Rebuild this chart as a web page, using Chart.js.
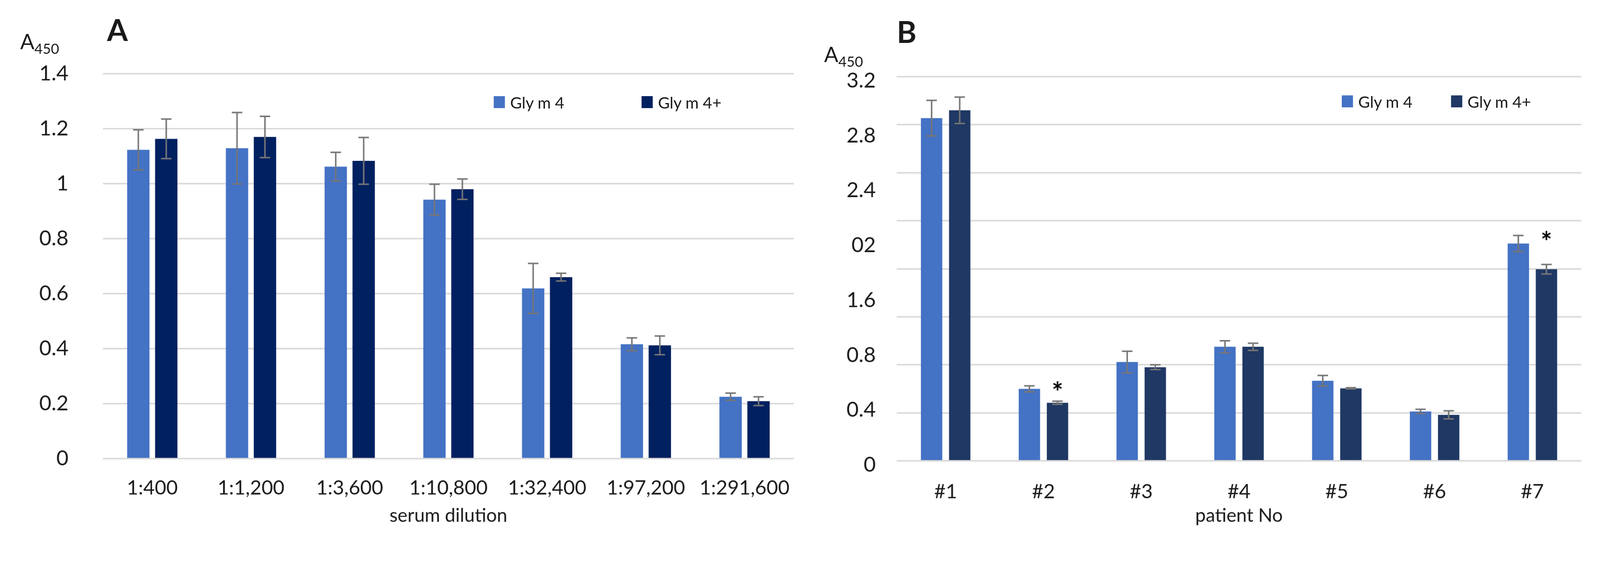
<!DOCTYPE html>
<html>
<head>
<meta charset="utf-8">
<script src="https://cdn.jsdelivr.net/npm/chart.js@4.4.1/dist/chart.umd.min.js"></script>
<style>
  html, body { margin: 0; padding: 0; background: #fff; overflow: hidden; }
  body { font-family: Lato, 'Open Sans', sans-serif; color: #1a1a1a; }
  #page { width: 4275px; height: 1437px; position: relative; transform-origin: 0 0; }
  .panel { position: absolute; top: 0; height: 1437px; }
  #panelA { left: 0; width: 2150px; }
  #panelB { left: 2150px; width: 2125px; }
  .wrap { position: absolute; left: 0; top: 0; width: 100%; height: 100%; }
  .letter { position: absolute; font-weight: bold; font-size: 80px; line-height: 1; }
  .ylab { position: absolute; font-size: 56px; line-height: 1; white-space: nowrap; }
  .ylab sub { font-size: 38px; vertical-align: baseline; position: relative; top: 12px; }
  .legend-item { position: absolute; display: flex; align-items: center; height: 32px; font-size: 43px; line-height: 1; white-space: nowrap; }
  .legend-item .box { width: 30px; height: 32px; margin-right: 14px; display: inline-block; }
</style>
</head>
<body>
<div id="page">
  <div id="panelA" class="panel">
    <div class="wrap"><canvas id="chartA"></canvas></div>
    <div class="letter" style="left:286px; top:39px;">A</div>
    <div class="ylab" style="left:54px; top:83px;">A<sub>450</sub></div>
  </div>
  <div id="panelB" class="panel">
    <div class="wrap"><canvas id="chartB"></canvas></div>
    <div class="letter" style="left:246px; top:44px;">B</div>
    <div class="ylab" style="left:52px; top:117px;">A<sub>450</sub></div>
  </div>
</div>

<script>
// panel A: serum dilution
const dilutions = ['1:400', '1:1,200', '1:3,600', '1:10,800', '1:32,400', '1:97,200', '1:291,600'];
const glyA = [1.123, 1.129, 1.062, 0.942, 0.619, 0.416, 0.225];
const glyAErr = [0.073, 0.13, 0.052, 0.056, 0.091, 0.023, 0.013];
const glyPlusA = [1.163, 1.17, 1.083, 0.98, 0.66, 0.412, 0.209];
const glyPlusAErr = [0.072, 0.075, 0.085, 0.037, 0.014, 0.034, 0.016];
const yTicksA = ['0', '0.2', '0.4', '0.6', '0.8', '1', '1.2', '1.4'];

// panel B: patients
const patients = ['#1', '#2', '#3', '#4', '#5', '#6', '#7'];
const glyB = [2.855, 0.6, 0.823, 0.95, 0.667, 0.411, 1.81];
const glyBErr = [0.148, 0.025, 0.09, 0.05, 0.044, 0.018, 0.067];
const glyPlusB = [2.92, 0.484, 0.78, 0.95, 0.604, 0.383, 1.596];
const glyPlusBErr = [0.11, 0.013, 0.02, 0.03, 0.005, 0.034, 0.04];
const starsB = ['', '*', '', '', '', '', '*'];
const yTicksB = ['0', '0.4', '0.8', '1.6', '02', '2.4', '2.8', '3.2'];

// fit the 4275x1437 page into whatever viewport we really get
const fit = Math.min(window.innerWidth / 4275, window.innerHeight / 1437);
if (fit && Math.abs(fit - 1) > 0.002) {
    document.getElementById('page').style.transform = 'scale(' + fit + ')';
}

Chart.defaults.font.family = 'Lato, "Open Sans", sans-serif';
Chart.defaults.color = '#1a1a1a';

const gridColor = '#d9d9d9';

// error bars drawn from each dataset's "errors" array
const errorBars = {
    id: 'errorBars',
    afterDatasetsDraw(chart) {
        const ctx = chart.ctx;
        const y = chart.scales.y;
        ctx.save();
        ctx.strokeStyle = '#767676';
        ctx.lineWidth = 4;
        chart.data.datasets.forEach((ds, i) => {
            chart.getDatasetMeta(i).data.forEach((bar, j) => {
                const top = y.getPixelForValue(ds.data[j] + ds.errors[j]);
                const bot = y.getPixelForValue(ds.data[j] - ds.errors[j]);
                ctx.beginPath();
                ctx.moveTo(bar.x, top); ctx.lineTo(bar.x, bot);
                ctx.moveTo(bar.x - 14, top); ctx.lineTo(bar.x + 14, top);
                ctx.moveTo(bar.x - 14, bot); ctx.lineTo(bar.x + 14, bot);
                ctx.stroke();
            });
        });
        ctx.restore();
    }
};

// significance asterisks over the Gly m 4+ bars
const stars = {
    id: 'stars',
    afterDatasetsDraw(chart) {
        const ctx = chart.ctx;
        const y = chart.scales.y;
        const light = chart.data.datasets[0];
        const dark = chart.data.datasets[1];
        const darkMeta = chart.getDatasetMeta(1);
        ctx.save();
        ctx.font = 'bold 72px Lato';
        ctx.fillStyle = '#000';
        ctx.textAlign = 'center';
        ctx.textBaseline = 'middle';
        starsB.forEach((s, j) => {
            if (!s) return;
            const v = Math.max(light.data[j] + light.errors[j], dark.data[j] + dark.errors[j]);
            ctx.fillText(s, darkMeta.data[j].x, y.getPixelForValue(v) + 20);
        });
        ctx.restore();
    }
};

function buildLegend(panelId, chart, lefts, top) {
    const panel = document.getElementById(panelId);
    chart.data.datasets.forEach((ds, i) => {
        const item = document.createElement('div');
        item.className = 'legend-item';
        item.style.left = lefts[i] + 'px';
        item.style.top = top + 'px';
        item.innerHTML = '<span class="box" style="background:' + ds.backgroundColor + '"></span>' + ds.label;
        panel.appendChild(item);
    });
}

const chartA = new Chart(document.getElementById('chartA'), {
    type: 'bar',
    data: {
        labels: dilutions,
        datasets: [
            { label: 'Gly m 4', data: glyA, errors: glyAErr, backgroundColor: '#4472C4' },
            { label: 'Gly m 4+', data: glyPlusA, errors: glyPlusAErr, backgroundColor: '#002060' }
        ]
    },
    options: {
        responsive: true,
        maintainAspectRatio: false,
        animation: false,
        datasets: { bar: { categoryPercentage: 0.566, barPercentage: 0.8 } },
        layout: { padding: { top: 197, right: 20, left: 0, bottom: 0 } },
        plugins: { legend: { display: false }, tooltip: { enabled: false } },
        scales: {
            x: {
                grid: { display: false },
                border: { display: false },
                ticks: { font: { size: 53 }, padding: 39, maxRotation: 0, autoSkip: false },
                title: { display: true, text: 'serum dilution', font: { size: 50 }, padding: { top: 0, bottom: 28 } },
                afterFit: s => { s.height = 211; }
            },
            y: {
                min: 0,
                max: 1.4,
                ticks: { stepSize: 0.2, padding: 92, font: { size: 56 }, callback: (v, i) => yTicksA[i] },
                grid: { color: gridColor, lineWidth: 4, drawTicks: false },
                border: { display: false },
                afterFit: s => { s.width = 275; }
            }
        }
    },
    plugins: [errorBars]
});

const chartB = new Chart(document.getElementById('chartB'), {
    type: 'bar',
    data: {
        labels: patients,
        datasets: [
            { label: 'Gly m 4', data: glyB, errors: glyBErr, backgroundColor: '#4472C4' },
            { label: 'Gly m 4+', data: glyPlusB, errors: glyPlusBErr, backgroundColor: '#1F3864' }
        ]
    },
    options: {
        responsive: true,
        maintainAspectRatio: false,
        animation: false,
        datasets: { bar: { categoryPercentage: 0.575, barPercentage: 0.76 } },
        layout: { padding: { top: 205, right: 50, left: 0, bottom: 0 } },
        plugins: { legend: { display: false }, tooltip: { enabled: false } },
        scales: {
            x: {
                grid: { display: false },
                border: { display: false },
                ticks: { font: { size: 53 }, padding: 43, maxRotation: 0, autoSkip: false },
                title: { display: true, text: 'patient No', font: { size: 50 }, padding: { top: 0, bottom: 28 } },
                afterFit: s => { s.height = 205; }
            },
            y: {
                min: 0,
                max: 3.2,
                ticks: { stepSize: 0.4, display: false },
                grid: { color: gridColor, lineWidth: 4, drawTicks: false },
                border: { display: false },
                afterFit: s => { s.width = 0; }
            },
            // the printed labels do not sit on the gridlines, so they get their own axis
            yLab: {
                position: 'left',
                min: 0,
                max: 7,
                ticks: { stepSize: 1, padding: 56, labelOffset: 11, font: { size: 56 }, callback: (v, i) => yTicksB[i] },
                grid: { display: false, drawTicks: false },
                border: { display: false },
                afterFit: s => { s.width = 246; }
            }
        }
    },
    plugins: [errorBars, stars]
});

buildLegend('panelA', chartA, [1319, 1714], 257);
buildLegend('panelB', chartB, [1435, 1727], 255);
</script>
</body>
</html>
